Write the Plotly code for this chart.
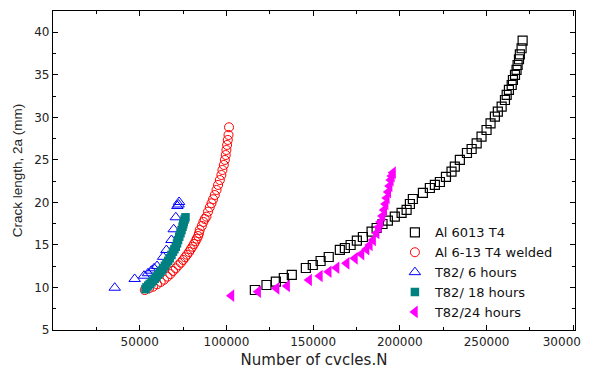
import plotly.graph_objects as go

# Al 6013 T4 (open black squares)
al_t4_n = [116400, 123100, 128500, 133100, 137700, 145800, 149800, 154300, 159000,
           165400, 168300, 171600, 175200, 178700, 183700, 186600, 190000, 193100,
           197100, 201000, 203900, 205800, 207500, 213300, 217300, 220200, 223100,
           226600, 229800, 231700, 234600, 238700, 241400, 244300, 247100, 250000,
           252300, 254800, 256500, 258700, 260600, 261600, 262900, 264500, 265200,
           266400, 267300, 267900, 268700, 269200, 270200, 270800]
al_t4_a = [9.70, 10.29, 10.68, 11.11, 11.47, 12.29, 12.64, 13.11, 13.58,
           14.41, 14.64, 14.99, 15.50, 15.93, 16.56, 16.99, 17.46, 17.85,
           18.32, 18.76, 19.11, 19.81, 20.40, 21.11, 21.69, 22.05, 22.40,
           22.99, 23.61, 24.20, 24.99, 25.81, 26.28, 26.95, 27.73, 28.51,
           29.30, 30.08, 30.66, 31.25, 32.04, 32.63, 33.22, 33.80, 34.39,
           34.98, 35.57, 36.15, 36.83, 37.41, 38.12, 39.01]

# Al 6-13 T4 welded (open red circles)
welded_n = [52900, 55400, 57700, 60000, 62100, 64000, 66000, 67700, 69200, 70800,
            72300, 73700, 75000, 76200, 77300, 78500, 79400, 80400, 81300, 82200,
            82900, 83700, 84200, 84600, 85800, 86700, 87500, 88500, 89400, 90400,
            91400, 92300, 93300, 94300, 95200, 96200, 97100, 97700, 98500, 99100,
            99600, 100000, 100400, 100800, 101200, 101500]
welded_a = [9.70, 9.90, 10.09, 10.37, 10.64, 10.91, 11.27, 11.58, 11.94, 12.25,
            12.61, 12.91, 13.23, 13.55, 13.85, 14.17, 14.49, 14.79, 15.11, 15.43,
            15.73, 16.05, 16.37, 16.76, 17.23, 17.70, 18.05, 18.32, 18.91, 19.43,
            19.90, 20.37, 20.87, 21.46, 22.05, 22.63, 23.22, 23.81, 24.40, 24.99,
            25.57, 26.16, 26.75, 27.34, 27.93, 28.83]

# T82/ 6 hours (open blue triangles)
t6_n = [35600, 47100, 52500, 54800, 56700, 58300, 60000, 63500, 65400,
        68300, 69600, 70800, 71700, 72400, 72700]
t6_a = [9.97, 11.0, 11.38, 11.67, 11.97, 12.25, 12.52, 13.6, 14.4,
        15.58, 16.84, 18.25, 19.58, 19.75, 20.05]

# T82/ 18 hours (filled teal squares)
t18_n = [53300, 53900, 54900, 55800, 56800, 57700, 58700, 59700, 60700, 61600,
         62600, 63500, 64500, 65400, 66400, 67300, 68300, 69200, 70000, 70800,
         71500, 72100, 72800, 73500, 74100, 74700, 75100, 75400, 75900, 76400]
t18_a = [9.80, 10.02, 10.22, 10.41, 10.60, 10.80, 11.03, 11.27, 11.50, 11.74,
         12.00, 12.25, 12.55, 12.84, 13.13, 13.43, 13.82, 14.21, 14.50, 14.79,
         15.18, 15.58, 15.97, 16.37, 16.75, 17.14, 17.44, 17.73, 18.00, 18.25]

# T82/24 hours (filled magenta left triangles)
t24_n = [102900, 118300, 128900, 135000, 147700, 153900, 159000, 163500, 169300,
         174100, 177900, 180800, 182700, 184600, 186600, 187900, 188900, 190000,
         191000, 191800, 192500, 193300, 194100, 194800, 195400, 196100]
t24_a = [9.03, 9.50, 9.90, 10.17, 10.88, 11.35, 11.85, 12.32, 12.84,
         13.43, 13.93, 14.49, 14.99, 15.58, 16.40, 17.11, 17.70, 18.40,
         19.11, 19.81, 20.52, 21.22, 21.93, 22.63, 23.10, 23.49]

x_tickvals = [50000, 100000, 150000, 200000, 250000, 300000]
# the last label reads "30000" in the reference, sitting just inside the right edge
x_ticktext = ["50000", "100000", "150000", "200000", "250000",
              "30000" + "\u00a0" * 6]
y_tickvals = [5, 10, 15, 20, 25, 30, 35, 40]

WIDE = "DejaVu Sans, Verdana, sans-serif"
ARIAL = "Liberation Sans, Arial, sans-serif"
TXT = "#222"

fig = go.Figure()
fig.add_trace(go.Scatter(x=al_t4_n, y=al_t4_a, mode="markers", name="Al 6013 T4",
                         marker=dict(symbol="square-open", size=9, color="black",
                                     line=dict(width=1.2))))
fig.add_trace(go.Scatter(x=welded_n, y=welded_a, mode="markers", name="Al 6-13 T4 welded",
                         marker=dict(symbol="circle-open", size=9, color="#ff0000",
                                     line=dict(width=1))))
fig.add_trace(go.Scatter(x=t6_n, y=t6_a, mode="markers", name="T82/ 6 hours",
                         marker=dict(symbol="triangle-up-open", size=10, color="#0000ff",
                                     line=dict(width=1))))
fig.add_trace(go.Scatter(x=t18_n, y=t18_a, mode="markers", name="T82/ 18 hours",
                         marker=dict(symbol="square", size=8.5, color="#008080",
                                     line=dict(width=0))))
fig.add_trace(go.Scatter(x=t24_n, y=t24_a, mode="markers", name="T82/24 hours",
                         marker=dict(symbol="triangle-left", size=11, color="#ff00ff",
                                     line=dict(width=0))))

axis_common = dict(showline=True, linecolor="black", linewidth=1.3, mirror="allticks",
                   ticks="inside", ticklen=5, tickwidth=1, tickcolor="black",
                   showgrid=False, zeroline=False, automargin=False,
                   ticklabeloverflow="allow",
                   tickfont=dict(family=WIDE, size=12, color=TXT))

fig.update_xaxes(range=[0, 301000], tickvals=x_tickvals, ticktext=x_ticktext,
                 title=dict(text="Number of cvcles.N", standoff=10,
                            font=dict(family=WIDE, size=15, color=TXT)),
                 minor=dict(ticks="inside", ticklen=3, tickcolor="black", tickwidth=1,
                            dtick=25000, tick0=0),
                 **axis_common)
fig.update_yaxes(range=[5, 42.5], tickvals=y_tickvals,
                 title=dict(text="Crack length, 2a (mm)", standoff=8,
                            font=dict(family=ARIAL, size=13.5, color=TXT)),
                 minor=dict(ticks="inside", ticklen=3, tickcolor="black", tickwidth=1,
                            dtick=2.5, tick0=0),
                 **axis_common)

fig.update_layout(width=582, height=361, margin=dict(l=45, r=15, t=3, b=39),
                  plot_bgcolor="white", paper_bgcolor="white",
                  legend=dict(x=0.655, y=0.353, xanchor="left", yanchor="top",
                              bgcolor="rgba(0,0,0,0)", tracegroupgap=0,
                              font=dict(family=WIDE, size=13, color="#111")),
                  showlegend=True)

fig.write_html("out.html")
